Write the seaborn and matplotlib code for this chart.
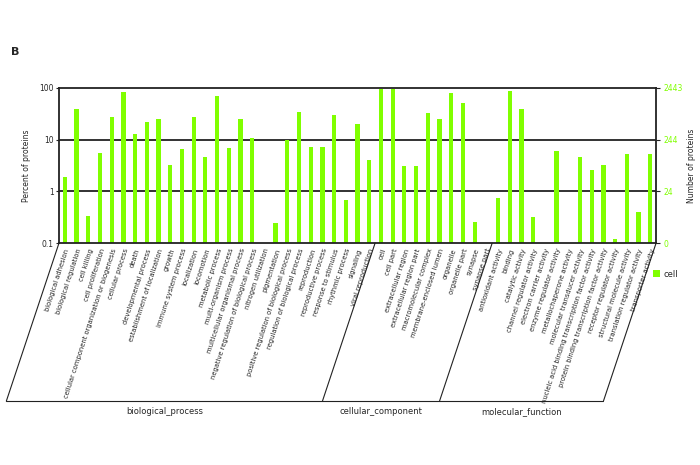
import numpy as np
import pandas as pd
import matplotlib
matplotlib.use("Agg")
import matplotlib.pyplot as plt
import matplotlib.transforms as mtransforms
import seaborn as sns

# GO terms, grouped by ontology
bp_terms = [
    "biological adhesion", "biological regulation", "cell killing", "cell proliferation",
    "cellular component organization or biogenesis", "cellular process", "death",
    "developmental process", "establishment of localization", "growth",
    "immune system process", "localization", "locomotion", "metabolic process",
    "multi-organism process", "multicellular organismal process",
    "negative regulation of biological process", "nitrogen utilization", "pigmentation",
    "positive regulation of biological process", "regulation of biological process",
    "reproduction", "reproductive process", "response to stimulus", "rhythmic process",
    "signaling", "viral reproduction",
]
cc_terms = [
    "cell", "cell part", "extracellular region", "extracellular region part",
    "macromolecular complex", "membrane-enclosed lumen", "organelle", "organelle part",
    "synapse", "synapse part",
]
mf_terms = [
    "antioxidant activity", "binding", "catalytic activity", "channel regulator activity",
    "electron carrier activity", "enzyme regulator activity", "metallochaperone activity",
    "molecular transducer activity", "nucleic acid binding transcription factor activity",
    "protein binding transcription factor activity", "receptor regulator activity",
    "structural molecule activity", "translation regulator activity", "transporter activity",
]

# percent of proteins
bp_pct = [1.9, 39, 0.33, 5.6, 27, 82, 12.6, 22, 25, 3.2, 6.7, 27, 4.6, 69, 6.8, 25,
          10.7, 0, 0.24, 9.9, 34, 7.3, 7.1, 30, 0.68, 20, 4.0]
cc_pct = [97, 96, 3.1, 3.1, 33, 25, 80, 52, 0.25, 0]
mf_pct = [0.73, 86, 40, 0.32, 0, 5.9, 0, 4.6, 2.6, 3.3, 0.12, 5.2, 0.4, 5.3]

group_names = ["biological_process", "cellular_component", "molecular_function"]
left_ticks = [0.1, 1, 10, 100]
left_tick_labels = ["0.1", "1", "10", "100"]
right_tick_labels = ["0", "24", "244", "2443"]
sample = "cell"

terms = bp_terms + cc_terms + mf_terms
df = pd.DataFrame({"term": terms, "percent": bp_pct + cc_pct + mf_pct, "sample": sample})

GREEN = "#80ff00"
DARK = "#222222"

sns.set_style("white")
plt.rcParams["font.family"] = ["DejaVu Sans"]

fig = plt.figure(figsize=(7, 4.65), dpi=100)
ax = fig.add_axes([0.0843, 0.4774, 0.853, 0.3334])

sns.barplot(data=df, x="term", y="percent", hue="sample", palette={sample: GREEN},
            width=0.36, saturation=1, linewidth=0, ax=ax, legend=True)
ax.set_yscale("log")
ax.set_ylim(0.1, 100)
ax.set_xlim(-0.5, len(terms) - 0.5)
ax.minorticks_off()
ax.set_yticks(left_ticks)
ax.set_yticklabels(left_tick_labels, fontsize=5.5)
ax.set_ylabel("Percent of proteins", fontsize=5.5, labelpad=6)
ax.set_xlabel("")

for y in [1, 10]:
    ax.axhline(y, color=DARK, lw=1.3, zorder=0)
for side in ["top", "bottom", "left", "right"]:
    ax.spines[side].set_visible(True)
    ax.spines[side].set_color(DARK)
    ax.spines[side].set_linewidth(1.3)

ax.tick_params(axis="y", length=2, width=0.8, pad=2, color=DARK)
ax.tick_params(axis="x", length=2, width=0.5, pad=1.5, color=DARK)
ax.set_xticks(range(len(terms)))
ax.set_xticklabels(terms, rotation=72, ha="right", va="top", rotation_mode="anchor",
                   fontsize=4.9)

# right axis with protein counts
ax2 = ax.twinx()
ax2.set_yscale("log")
ax2.set_ylim(0.1, 100)
ax2.minorticks_off()
ax2.set_yticks(left_ticks)
ax2.set_yticklabels(right_tick_labels, fontsize=5.5, color=GREEN)
ax2.tick_params(axis="y", length=3, width=0.8, pad=2, color=DARK)
ax2.set_ylabel("Number of proteins", fontsize=5.5, labelpad=3)
for side in ["top", "bottom", "left", "right"]:
    ax2.spines[side].set_visible(False)

# slanted group separators under the labels
trans = mtransforms.blended_transform_factory(ax.transData, ax.transAxes)
bounds = [-0.5, len(bp_terms) - 0.5, len(bp_terms) + len(cc_terms) - 0.5, len(terms) - 0.5]
shift = 4.5
y_low = -1.02
for b in bounds:
    ax.plot([b, b - shift], [0, y_low], color=DARK, lw=0.8, transform=trans,
            clip_on=False)
ax.plot([bounds[0] - shift, bounds[-1] - shift], [y_low, y_low], color=DARK, lw=0.8,
        transform=trans, clip_on=False)
for name, lo, hi in zip(group_names, bounds[:-1], bounds[1:]):
    ax.text((lo + hi) / 2 - shift, y_low - 0.065, name, transform=trans, ha="center",
            va="center", fontsize=6)

sns.move_legend(ax, loc="center left", bbox_to_anchor=(0.995, -0.2), frameon=False,
                title=None, fontsize=6, handlelength=0.8, handleheight=0.8,
                handletextpad=0.5, borderaxespad=0, borderpad=0)

fig.text(0.016, 0.888, "B", fontsize=8, fontweight="bold", ha="left", va="center")

fig.savefig("out.png", dpi=100)
